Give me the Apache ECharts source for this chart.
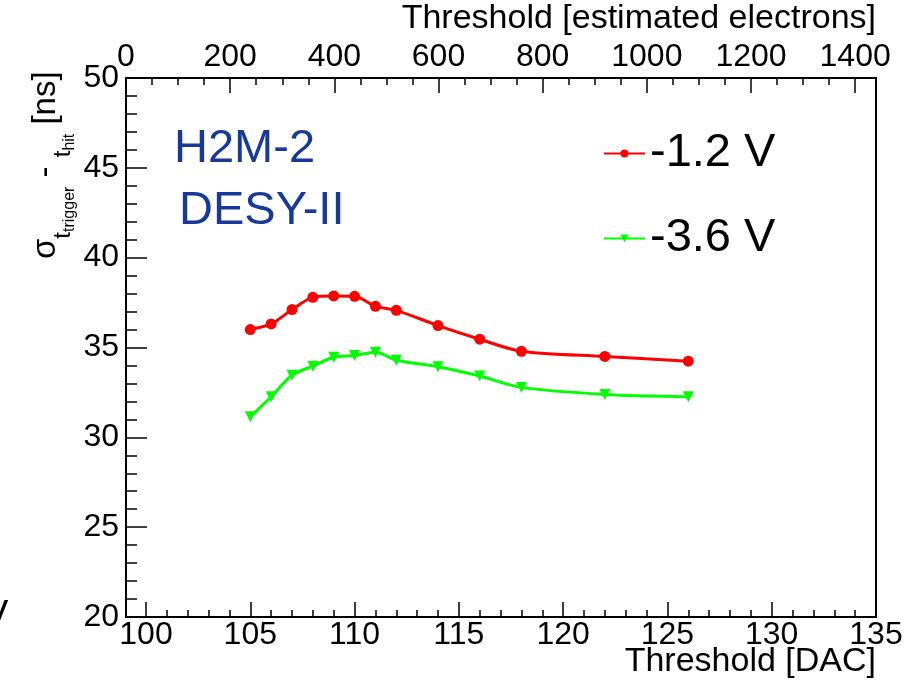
<!doctype html>
<html lang="en">
<head>
<meta charset="UTF-8">
<title>H2M-2 time resolution vs threshold</title>
<script src="https://cdn.jsdelivr.net/npm/echarts@6.0.0/dist/echarts.min.js"></script>
<style>
  html, body { margin: 0; padding: 0; background: #fff; }
  #main { width: 920px; height: 683px; }
</style>
</head>
<body>
<div id="main"></div>
<script type="text/javascript">
    // threshold in DAC units, one entry per measured point
    var dac = [105, 106, 107, 108, 109, 110, 111, 112, 114, 116, 118, 122, 126];
    // sigma(t_trigger - t_hit) in ns
    var sigmaBias12 = [36.0, 36.31, 37.11, 37.79, 37.87, 37.85, 37.29, 37.07, 36.22, 35.46, 34.79, 34.50, 34.24];
    var sigmaBias36 = [31.14, 32.26, 33.46, 33.96, 34.46, 34.55, 34.74, 34.29, 33.93, 33.41, 32.78, 32.39, 32.26];
    var seriesNames = ['-1.2 V', '-3.6 V'];

    // axis ticks
    var dacTicks = [100, 105, 110, 115, 120, 125, 130, 135];
    var electronTicks = [0, 200, 400, 600, 800, 1000, 1200, 1400];

    var dacMinor = [];
    for (var i = 100; i <= 134; i++) dacMinor.push(i);
    var electronMinor = [];
    for (var j = 0; j <= 1400; j += 50) electronMinor.push(j);

    var F = "'Liberation Sans', Arial, Helvetica, sans-serif";

    function pairs(ys) {
        var out = [];
        for (var k = 0; k < dac.length; k++) out.push([dac[k], ys[k]]);
        return out;
    }
    function plain(v) { return String(v); }

    var myChart = echarts.init(document.getElementById('main'), null, {renderer: 'canvas'});

    var blackLine = {show: true, lineStyle: {color: '#000', width: 2}};

    var option = {
        animation: false,
        backgroundColor: '#fff',
        grid: {
            left: 126, right: 44, top: 78, bottom: 66,
            show: true, borderColor: '#000', borderWidth: 2,
            outerBoundsMode: 'none'
        },
        title: [
            {text: 'H2M-2', left: 174, top: 126, padding: 0,
             textStyle: {fontSize: 47, fontWeight: 'normal', color: '#16399b', fontFamily: F}},
            {text: 'DESY-II', left: 179, top: 188, padding: 0,
             textStyle: {fontSize: 47, fontWeight: 'normal', color: '#16399b', fontFamily: F}}
        ],
        legend: {
            orient: 'vertical',
            left: 598, top: 125,
            itemWidth: 41, itemHeight: 10, itemGap: 38,
            selectedMode: false,
            data: seriesNames,
            textStyle: {fontSize: 47, color: '#000', fontFamily: F}
        },
        xAxis: [
            {   // bottom DAC axis, major ticks + labels
                type: 'value', position: 'bottom', min: 99.04, max: 135,
                axisLine: blackLine,
                axisTick: {inside: true, length: 15, customValues: dacTicks, lineStyle: {color: '#000', width: 1.5}},
                axisLabel: {customValues: dacTicks, formatter: plain, fontSize: 32, color: '#000', fontFamily: F, margin: 2},
                splitLine: {show: false},
                name: 'Threshold [DAC]', nameLocation: 'end', nameGap: 0, nameMoveOverlap: false,
                nameTextStyle: {fontSize: 34, color: '#000', fontFamily: F, align: 'right', verticalAlign: 'top', padding: [28, 0, 0, 0]}
            },
            {   // bottom DAC axis, minor ticks
                type: 'value', position: 'bottom', min: 99.04, max: 135,
                axisLine: {show: false},
                axisTick: {inside: true, length: 7, customValues: dacMinor, lineStyle: {color: '#000', width: 1.5}},
                axisLabel: {show: false},
                splitLine: {show: false}
            },
            {   // top electrons axis, major ticks + labels
                type: 'value', position: 'top', min: 0, max: 1440,
                axisLine: blackLine,
                axisTick: {inside: true, length: 15, customValues: electronTicks, lineStyle: {color: '#000', width: 1.5}},
                axisLabel: {customValues: electronTicks, formatter: plain, fontSize: 32, color: '#000', fontFamily: F, margin: 5},
                splitLine: {show: false},
                name: 'Threshold [estimated electrons]', nameLocation: 'end', nameGap: 0, nameMoveOverlap: false,
                nameTextStyle: {fontSize: 34, color: '#000', fontFamily: F, align: 'right', verticalAlign: 'bottom', padding: [0, 0, 42, 0]}
            },
            {   // top electrons axis, minor ticks
                type: 'value', position: 'top', min: 0, max: 1440,
                axisLine: {show: false},
                axisTick: {inside: true, length: 7, customValues: electronMinor, lineStyle: {color: '#000', width: 1.5}},
                axisLabel: {show: false},
                splitLine: {show: false}
            }
        ],
        yAxis: [{
            type: 'value', position: 'left', min: 20, max: 50, interval: 5,
            axisLine: blackLine,
            axisTick: {inside: true, length: 21, lineStyle: {color: '#000', width: 1.5}},
            minorTick: {show: true, splitNumber: 5, length: 11, lineStyle: {color: '#000', width: 1.5}},
            axisLabel: {fontSize: 32, color: '#000', fontFamily: F, margin: 7},
            splitLine: {show: false}
        }],
        graphic: [
            {   // y axis title, reads bottom to top
                type: 'text', x: 29, y: 259, rotation: Math.PI / 2,
                style: {
                    text: '{a|σ}{b|t}{c|trigger}{a| - }{b|t}{c|hit}{a| [ns]}',
                    fill: '#000',
                    rich: {
                        a: {fontSize: 33, fontFamily: F, fill: '#000', verticalAlign: 'top', lineHeight: 33},
                        b: {fontSize: 24, fontFamily: F, fill: '#000', verticalAlign: 'top', lineHeight: 24, padding: [22, 0, 0, 0]},
                        c: {fontSize: 16, fontFamily: F, fill: '#000', verticalAlign: 'top', lineHeight: 16, padding: [33, 0, 0, 0]}
                    }
                }
            },
            {   // stray letter cut off at the left edge
                type: 'text', x: -17, y: 598,
                style: {text: 'V', fontSize: 38, fontFamily: F, fill: '#000'}
            }
        ],
        series: [
            {
                name: seriesNames[0], type: 'line', xAxisIndex: 0, yAxisIndex: 0,
                data: pairs(sigmaBias12),
                smooth: 0.3,
                symbol: 'circle', symbolSize: 11,
                lineStyle: {color: '#ff0000', width: 3},
                itemStyle: {color: '#ff0000'}
            },
            {
                name: seriesNames[1], type: 'line', xAxisIndex: 0, yAxisIndex: 0,
                data: pairs(sigmaBias36),
                smooth: 0.3,
                symbol: 'triangle', symbolRotate: 180, symbolSize: 11,
                lineStyle: {color: '#00ff00', width: 3},
                itemStyle: {color: '#00ff00'}
            }
        ]
    };

    myChart.setOption(option);
</script>
</body>
</html>
